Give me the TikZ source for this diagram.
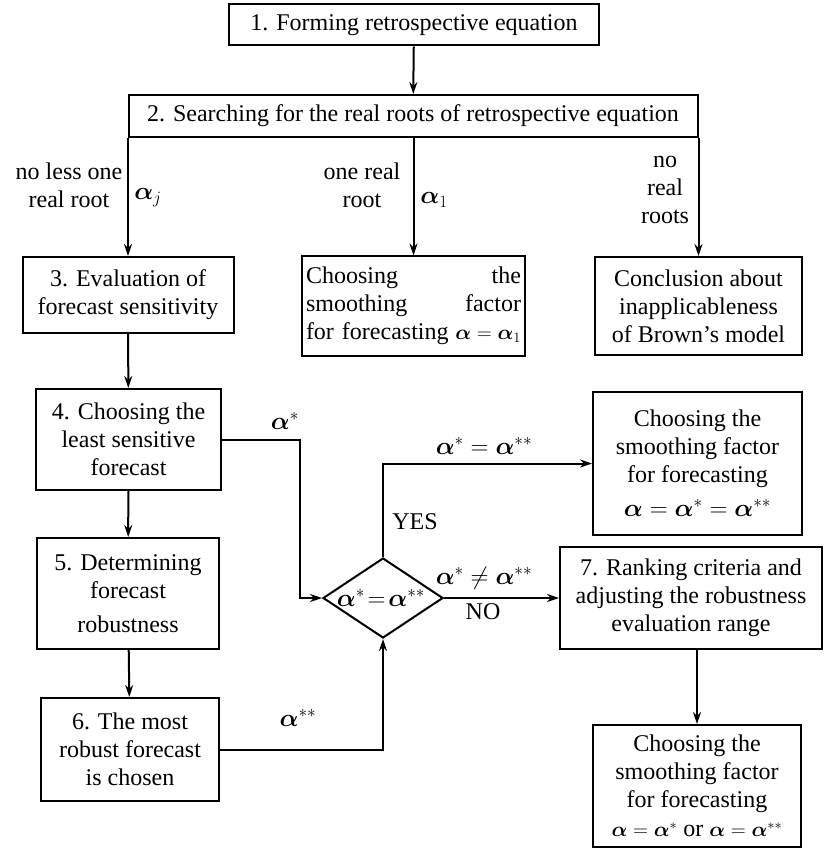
\documentclass[tikz,border=0pt]{standalone}
\usepackage{amsmath,amssymb}
\usepackage{fontspec}
\setmainfont{Liberation Serif}
\usetikzlibrary{arrows.meta,shapes.geometric}
\newcommand{\ba}{\boldsymbol{\alpha}}
\newcommand{\smallmath}[1]{{\fontsize{21}{28}\selectfont$#1$}}
\begin{document}
\begin{tikzpicture}[x=1pt,y=-1pt,
  font=\fontsize{24}{28}\selectfont,
  box/.style={draw, line width=2pt, align=center, inner sep=2pt},
  conn/.style={line width=2pt},
  arr/.style={conn, -{Stealth[length=12pt,width=8pt]}},
  lab/.style={align=center, inner sep=0pt}]
\useasboundingbox (0,0) rectangle (829,858);
% boxes
\node[box, minimum width=370, minimum height=41] (b1) at (414,25) {1. Forming retrospective equation};
\node[box, minimum width=569, minimum height=42] (b2) at (413,116) {2. Searching for the real roots of retrospective equation};
\node[box, minimum width=211, minimum height=76] (b3) at (128,295) {3. Evaluation of\\forecast sensitivity};
\node[box, minimum width=223, minimum height=99, text width=215, inner xsep=3pt, align=left] (mid) at (413.5,306) {Choosing\hfill the\\smoothing\hfill factor\\for forecasting\hfill\smallmath{\ba=\ba_1}};
\node[box, minimum width=207, minimum height=98] (rt) at (698.5,306) {Conclusion about\\inapplicableness\\of Brown’s model};
\node[box, minimum width=185, minimum height=101] (b4) at (128.5,439.5) {4. Choosing the\\least sensitive\\forecast};
\node[box, minimum width=182, minimum height=111] (b5) at (128,593.5) {5. Determining\\forecast\\[6pt]robustness};
\node[box, minimum width=178, minimum height=103] (b6) at (130,749.5) {6. The most\\robust forecast\\is chosen};
\node[box, minimum width=209, minimum height=143] (tr) at (697.5,463.5) {Choosing the\\smoothing factor\\for forecasting\\[6pt]$\ba=\ba^{*}=\ba^{**}$};
\node[box, minimum width=262, minimum height=102] (b7) at (691,598) {7. Ranking criteria and\\adjusting the robustness\\evaluation range};
\node[box, minimum width=208, minimum height=122] (bb) at (697,786) {Choosing the\\smoothing factor\\for forecasting\\[1pt]\smallmath{\ba=\ba^{*}}\ or\ \smallmath{\ba=\ba^{**}}};
% decision
\node[draw, diamond, line width=2pt, minimum width=120, minimum height=80, inner sep=0pt] (d) at (383,598) {};
\node[lab] (dl) at (381,598) {$\ba^{*}\!=\!\ba^{**}$};
\coordinate (kx) at (300,0);
% connectors
\draw[arr] (b1) -- (b2);
\draw[arr] (b2.south -| b3.north) -- (b3.north);
\draw[arr] (b2.south -| mid.north) -- (mid.north);
\draw[arr] (b2.south -| rt.north) -- (rt.north);
\draw[arr] (b3) -- (b4);
\draw[arr] (b4) -- (b5);
\draw[arr] (b5) -- (b6);
\draw[arr] (b4.east) -| (kx |- d.west) -- (d.west);
\draw[arr] (b6.east) -| (d.south);
\draw[arr] (d.north) |- (tr.west);
\draw[arr] (d.east) -- (b7.west);
\draw[arr] (b7.south -| bb.north) -- (bb.north);
% labels
\node[lab] (l1) at (69,185) {no less one\\real root};
\node[lab] (l2) at (148,198) {$\ba_j$};
\node[lab] (l3) at (362,185) {one real\\root};
\node[lab] (l4) at (434,200) {$\ba_1$};
\node[lab] (l5) at (665,190) {no\\real\\roots};
\node[lab] (l6) at (285,421) {$\ba^{*}$};
\node[lab] (l7) at (298,718) {$\ba^{**}$};
\node[lab] (l8) at (484,446) {$\ba^{*}=\ba^{**}$};
\node[lab] (l9) at (415,522) {YES};
\node[lab] (l10) at (484,578) {$\ba^{*}\neq\ba^{**}$};
\node[lab] (l11) at (483,612) {NO};
\end{tikzpicture}
\end{document}
